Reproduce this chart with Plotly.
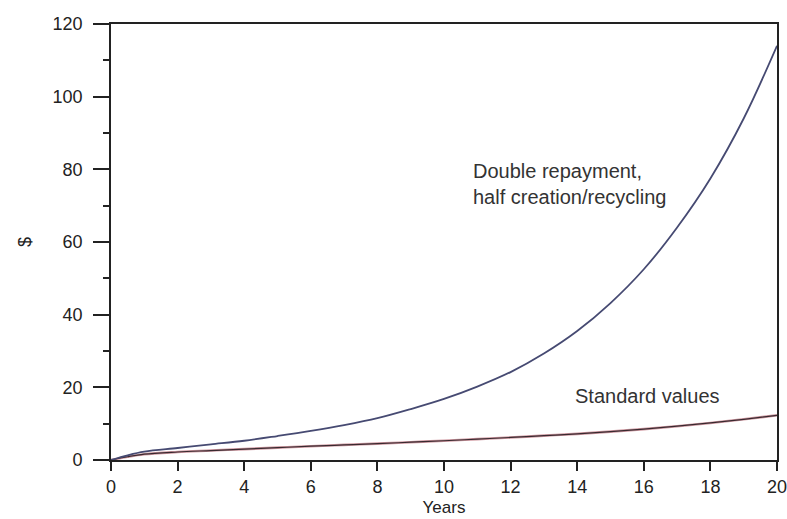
import plotly.graph_objects as go

years = [0, 0.5, 1, 2, 3, 4, 5, 6, 7, 8, 9, 10, 11, 12, 13, 14, 15, 16, 17, 18, 19, 20]
double_repayment = [0, 1.3, 2.3, 3.3, 4.3, 5.3, 6.6, 8.0, 9.6, 11.5, 14.0, 16.8, 20.2, 24.2,
                    29.3, 35.5, 43.2, 52.5, 64.0, 77.5, 94.0, 114.0]
standard_values = [0, 0.9, 1.6, 2.2, 2.6, 3.0, 3.4, 3.8, 4.15, 4.5, 4.9, 5.3, 5.75, 6.2,
                   6.7, 7.2, 7.8, 8.5, 9.3, 10.2, 11.2, 12.3]

x_ticks = list(range(0, 21, 2))
y_ticks = list(range(0, 121, 20))

FONT = "Arial, Liberation Sans, sans-serif"

fig = go.Figure()
fig.add_trace(go.Scatter(x=years, y=standard_values, mode="lines", line_shape="spline",
                         line=dict(color="#d09aa2", width=2.6), hoverinfo="skip", showlegend=False))
fig.add_trace(go.Scatter(x=years, y=standard_values, mode="lines", line_shape="spline",
                         line=dict(color="#3a2a30", width=1.2), showlegend=False))
fig.add_trace(go.Scatter(x=years, y=double_repayment, mode="lines", line_shape="spline",
                         line=dict(color="#464a72", width=1.8), showlegend=False))

fig.add_annotation(x=10.82, y=76, xref="x", yref="y", xanchor="left", yanchor="middle",
                   text="Double repayment,<br>half creation/recycling", showarrow=False, align="left",
                   font=dict(family=FONT, size=20, color="#333333"))
fig.add_annotation(x=13.86, y=17.6, xref="x", yref="y", xanchor="left", yanchor="middle",
                   text="Standard values", showarrow=False,
                   font=dict(family=FONT, size=20, color="#333333"))

fig.update_layout(
    width=787, height=519,
    margin=dict(l=111, r=10, t=24, b=59),
    paper_bgcolor="white", plot_bgcolor="white",
    font=dict(family=FONT, size=17, color="#222222"),
)
fig.update_xaxes(range=[0, 20], tickvals=x_ticks, ticks="outside", ticklen=9, tickwidth=1.8,
                 tickcolor="#222222", showline=True, linecolor="#222222", linewidth=1.8, mirror=True,
                 showgrid=False, zeroline=False, automargin=False, ticklabeloverflow="allow",
                 title=dict(text="Years", font=dict(size=17), standoff=6),
                 tickfont=dict(size=18))
fig.update_yaxes(range=[0, 120], tickvals=y_ticks, ticks="outside", ticklen=16, tickwidth=1.8,
                 tickcolor="#222222", showline=True, linecolor="#222222", linewidth=1.8, mirror=True,
                 showgrid=False, zeroline=False, ticklabelstandoff=7, automargin=False,
                 ticklabeloverflow="allow",
                 minor=dict(dtick=10, ticks="outside", ticklen=6, tickwidth=1.8, tickcolor="#222222"),
                 title=dict(text="$", font=dict(size=18), standoff=16),
                 tickfont=dict(size=18))

fig.write_html("out.html", config={"displayModeBar": False},
               post_script="document.body.style.margin='0';document.body.style.padding='0';")
